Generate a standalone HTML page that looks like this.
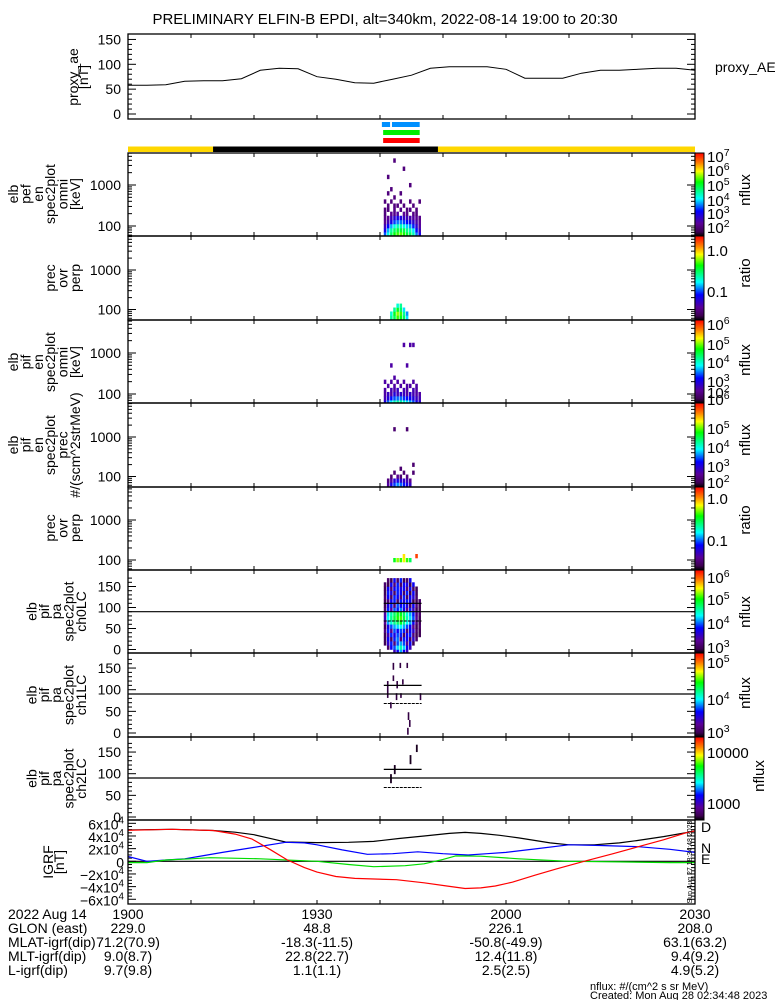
<!DOCTYPE html>
<html><head><meta charset="utf-8"><title>ELFIN-B EPDI</title>
<style>
html,body{margin:0;padding:0;background:#fff;}
svg{display:block;font-family:"Liberation Sans","DejaVu Sans",sans-serif;}
text{fill:#000;}
</style></head>
<body>
<svg id="chart" width="775" height="1000" viewBox="0 0 775 1000" xmlns="http://www.w3.org/2000/svg">
<defs>
<linearGradient id="cmap" x1="0" y1="1" x2="0" y2="0">
<stop offset="0" stop-color="#000000"/><stop offset="0.05" stop-color="#3c0050"/><stop offset="0.15" stop-color="#5a0096"/>
<stop offset="0.3" stop-color="#0000ff"/><stop offset="0.45" stop-color="#00ffff"/><stop offset="0.55" stop-color="#00ff80"/>
<stop offset="0.65" stop-color="#00ff00"/><stop offset="0.78" stop-color="#ffff00"/><stop offset="0.88" stop-color="#ff8000"/><stop offset="1" stop-color="#ff0000"/>
</linearGradient>
</defs>
<rect x="0" y="0" width="775" height="1000" fill="#fff"/>
<text x="385" y="24" font-size="15" text-anchor="middle">PRELIMINARY ELFIN-B EPDI, alt=340km, 2022-08-14 19:00 to 20:30</text>
<g id="g"></g>
</svg>
<script>
// ---------- DATA ----------
const aeTimes=[0,3,6,9,12,15,18,21,24,27,30,33,36,39,42,45,48,51,54,57,60,63,66,69,72,75,78,81,84,87,90];
const aeValues=[58,58,59,66,67,67,71,88,92,91,75,70,63,62,70,78,92,95,95,95,90,72,72,72,82,88,88,90,92,92,88];

const igrfTimes=[0,7,13.5,17,20,23,25,30,35,39,43,47,51,53.5,56,59,62,64.5,67,70,74,78,81,85,89,90];
const igrfTotal=[4.95,5.05,4.86,4.6,4.2,3.5,3.05,2.95,3.0,3.14,3.6,4.0,4.4,4.57,4.4,4.1,3.7,3.3,2.9,2.6,2.6,2.9,3.3,3.9,4.6,4.8];
const igrfDTimes=[0,7,13.5,17,19.7,22.5,25.3,28,30,33,36,42.6,47,50.6,53.5,56,58.3,61,64.6,68,72.4,77,81,85,88.9,90];
const igrfD=[4.9,5.05,4.86,4.3,3.5,1.9,0.2,-1.0,-1.7,-2.4,-2.7,-2.9,-3.4,-3.9,-4.3,-4.2,-3.9,-3.3,-2.2,-1.2,0,1.2,2.3,3.4,4.6,4.8];
const igrfNTimes=[0,3,6,9,12,15,20,25,28,30,34,38,42,46,50,54,57,60,65,70,75,81,86,90];
const igrfN=[0.76,0,0.2,0.4,0.9,1.4,2.2,3.0,2.9,2.6,1.8,1.1,1.2,1.5,1.2,1.0,1.2,1.4,2.0,2.6,2.5,2.3,1.9,1.4];
const igrfETimes=[0,3,6,10,13,21,30,35,39,44,47,50,52,56,62,70,78,86,90];
const igrfE=[-0.2,-0.2,0.2,0.4,0.57,0.4,0,-0.5,-0.86,-0.7,-0.4,0.3,0.86,0.8,0.4,0,-0.1,-0.2,-0.2];

const specTimes=[40.6,41.1,41.6,42.1,42.6,43.1,43.6,44.1,44.6,45.1,45.6,46.1];
const specDt=0.5;
const enLog0=1.75, enStep=0.1;
const pefOmni=[
[3.5,4.2,4.8,5.2,5.4,5.5,5.3,5.0,4.8,4.4,3.6,3.0],
[3.0,3.8,4.5,4.8,5.0,5.0,4.9,4.6,4.4,4.0,3.2,2.6],
[2.6,3.2,3.8,4.2,4.4,4.4,4.2,3.9,3.7,3.3,2.8,2.4],
[2.3,2.6,3.0,3.4,3.6,3.6,3.4,3.2,3.0,2.8,2.5,2.3],
[2.2,2.3,2.6,2.8,3.0,2.9,2.7,2.6,2.5,2.4,2.3,2.2],
[2.1,0,2.3,2.2,2.4,0,2.3,2.2,0,2.2,2.1,0],
[2.1,2.1,0,2.2,0,2.2,0,2.1,2.2,0,2.1,0],
[0,2.1,0,2.1,2.1,0,2.1,0,0,2.1,0,0],
[2.1,0,2.1,0,0,2.1,0,0,2.1,0,0,2.1],
[0,0,0,2.1,0,0,0,0,0,0,0,0],
[0,2.1,0,0,0,2.1,0,0,0,0,0,0],
[0,0,2.1,0,0,0,0,0,0,0,0,0],
[0,0,0,0,0,0,0,0,2.1,0,0,0],
[0,0,0,0,0,0,0,0,0,0,0,0],
[0,2.1,0,0,0,0,0,0,0,0,0,0],
[0,0,0,0,0,0,0,0,0,0,0,0],
[0,0,0,0,0,0,2.1,0,0,0,0,0],
[0,0,0,0,0,0,0,0,0,0,0,0],
[0,0,0,2.1,0,0,0,0,0,0,0,0]];
const pefRatio=[
[0,0,-0.6,-0.5,-0.3,-0.4,-0.5,-0.8,0,0,0,0],
[0,0,-0.7,-0.4,-0.2,-0.3,-0.6,-0.9,0,0,0,0],
[0,0,0,-0.6,-0.4,-0.5,-0.8,0,0,0,0,0],
[0,0,0,0,-0.7,-0.6,0,0,0,0,0,0]];
const pifOmni=[
[2.6,3.2,3.6,3.9,4.0,4.0,3.8,3.6,3.4,3.1,2.7,2.5],
[2.3,2.6,2.9,3.1,3.2,3.2,3.0,2.9,2.8,2.6,2.4,2.3],
[2.2,2.4,2.2,2.6,2.3,2.5,2.4,2.2,2.5,2.3,2.2,2.2],
[2.2,0,2.3,2.2,2.4,0,2.3,2.2,0,2.3,2.2,0],
[0,2.2,0,2.2,0,2.2,0,2.2,2.2,0,2.2,0],
[2.2,0,2.2,0,2.2,0,2.2,0,0,2.2,0,0],
[0,0,0,2.2,0,0,0,0,0,0,0,0],
[0,0,0,0,0,0,0,0,0,0,0,0],
[0,0,0,0,0,0,0,0,0,0,0,0],
[0,0,2.2,0,0,0,0,2.2,0,0,0,0],
[0,0,0,0,0,0,0,0,0,0,0,0],
[0,0,0,0,0,0,0,0,0,0,0,0],
[0,0,0,0,0,0,0,0,0,0,0,0],
[0,0,0,0,0,0,0,0,0,0,0,0],
[0,0,0,0,0,0,2.2,0,2.2,2.2,0,0]];
const pifPrec=[
[0,2.6,3.0,3.3,3.5,3.4,3.2,3.0,2.8,0,0,0],
[0,2.4,2.6,2.9,3.0,2.9,2.8,2.7,2.5,0,0,0],
[0,0,2.3,0,2.5,2.3,0,2.4,0,0,0,0],
[0,0,0,2.3,0,0,2.3,0,0,2.3,0,0],
[0,0,0,0,0,2.3,0,0,0,0,0,0],
[0,0,0,0,0,0,0,0,0,2.3,0,0],
[0,0,0,0,0,0,0,0,0,0,0,0],
[0,0,0,0,0,0,0,0,0,0,0,0],
[0,0,0,0,0,0,0,0,0,0,0,0],
[0,0,0,0,0,0,0,0,0,0,0,0],
[0,0,0,0,0,0,0,0,0,0,0,0],
[0,0,0,0,0,0,0,0,0,0,0,0],
[0,0,0,0,0,0,0,0,0,0,0,0],
[0,0,0,0,0,0,0,0,0,0,0,0],
[0,0,0,2.3,0,0,0,2.3,0,0,0,0]];
const pifRatio=[
[0,0,0,0,0,0,0,0,0,0,0,0],
[0,0,0,0,0,0,0,0,0,0,0,0],
[0,0,0,-0.4,-0.2,-0.3,-0.1,-0.3,-0.5,0,0,0],
[0,0,0,0,0.0,0,-0.05,0,0,0,0.25,0]];
const paBinLo=-10, paBinStep=10;
const pa0=[
[0,0,0,3.5,3.8,4.2,3.8,3.5,0,0,0,0],
[0,3.1,3.8,4.0,4.3,4.6,4.3,3.8,3.5,0,0,0],
[3.0,3.6,3.9,3.2,4.0,4.2,4.0,3.3,3.8,3.0,0,0],
[3.0,3.8,3.1,3.9,4.1,3.2,3.9,3.8,3.1,3.6,3.1,0],
[3.0,3.5,3.9,3.7,4.0,3.9,3.1,3.8,3.9,3.2,3.0,3.0],
[3.2,3.9,3.3,4.0,3.8,4.0,3.9,3.2,3.8,3.6,3.1,3.0],
[3.0,3.7,4.0,4.2,4.3,4.4,4.2,4.0,3.8,3.3,3.0,3.1],
[3.3,4.2,4.5,4.7,4.8,5.0,4.7,4.4,4.2,3.8,3.2,3.0],
[3.5,4.4,4.7,4.9,5.1,5.2,4.9,4.6,4.3,4.0,3.3,3.0],
[3.4,4.3,4.6,4.8,5.0,5.0,4.8,4.5,4.2,3.9,3.2,3.1],
[3.1,3.9,3.4,4.0,3.9,4.1,3.8,3.3,3.9,3.5,3.0,3.0],
[3.0,3.7,3.9,3.2,4.0,3.8,3.9,3.7,3.1,3.8,3.2,3.0],
[3.0,3.2,3.8,3.9,3.1,3.9,3.7,3.9,3.8,3.0,3.0,3.1],
[3.1,3.8,3.1,3.9,3.8,3.2,3.9,3.1,3.8,3.6,3.1,0],
[3.0,3.9,3.7,3.1,3.9,3.8,3.1,3.9,3.0,3.8,3.0,0],
[3.0,3.8,3.2,3.8,3.9,3.7,3.8,3.2,3.8,3.1,3.0,0],
[3.1,3.0,3.8,3.2,3.9,3.1,3.8,3.7,3.0,3.8,0,0],
[0,3.1,3.0,3.8,3.1,3.9,3.0,3.1,3.8,0,0,0]];
const pa1Marks=[[42.0,146,162,3.0],[43.1,150,162,3.0],[44.2,150,162,3.0],[42.0,120,133,3.0],[42.6,103,120,3.0],[43.5,112,124,3.0],[41.1,81,120,3.0],[42.5,76,92,3.0],[43.2,81,92,3.0],[46.3,76,92,3.0],[41.6,57,71,3.0],[44.4,30,48,3.0],[44.6,14,30,3.0],[44.3,-4,12,3.0]];
const pa2Marks=[[45.7,150,167,3.0],[44.7,122,143,3.0],[42.2,99,120,3.0],[41.6,78,99,3.0]];
const lcTimes=[40.6,46.6];
const lcCenter=90, lcUpper=110, lcLower=68;
const cbRanges=[[1.44,7.28],[-1.7,0.37],[1.31,6.5],[1.9,6.1],[-1.7,0.37],[2.8,6.3],[2.9,5.3],[2.7,4.3]];
const ephSegs=[[0,13.5,'#ffd700'],[13.5,49.2,'#000000'],[49.2,90,'#ffd700']];
const modeBars=[[40.3,41.6,'#0090ff'],[41.9,46.3,'#0090ff'],[40.5,46.3,'#00ee00'],[40.5,46.3,'#ff0000']];
const footLabels=['2022 Aug 14','GLON (east)','MLAT-igrf(dip)','MLT-igrf(dip)','L-igrf(dip)'];
const footTimes=[0,30,60,90];
const footCols=[['1900','229.0','71.2(70.9)','9.0(8.7)','9.7(9.8)'],['1930','48.8','-18.3(-11.5)','22.8(22.7)','1.1(1.1)'],['2000','226.1','-50.8(-49.9)','12.4(11.8)','2.5(2.5)'],['2030','208.0','63.1(63.2)','9.4(9.2)','4.9(5.2)']];

// ---------- HELPERS ----------
const NS='http://www.w3.org/2000/svg';
const G=document.getElementById('g');
const X0=128,X1=695;
function xT(t){return X0+t*(X1-X0)/90;}
function mk(tag,attrs,parent){const e=document.createElementNS(NS,tag);for(const k in attrs)e.setAttribute(k,attrs[k]);(parent||G).appendChild(e);return e;}
const stops=[[0,[0,0,0]],[0.05,[60,0,80]],[0.15,[90,0,150]],[0.3,[0,0,255]],[0.45,[0,255,255]],[0.55,[0,255,128]],[0.65,[0,255,0]],[0.78,[255,255,0]],[0.88,[255,128,0]],[1,[255,0,0]]];
function cmap(f){f=Math.max(0,Math.min(1,f));for(let i=1;i<stops.length;i++){if(f<=stops[i][0]){const a=stops[i-1],b=stops[i];const u=(f-a[0])/(b[0]-a[0]);const c=a[1].map((v,j)=>Math.round(v+(b[1][j]-v)*u));return 'rgb('+c.join(',')+')';}}return 'rgb(255,0,0)';}
function txt(x,y,s,size,anchor,name){const t=mk('text',{x:x,y:y,'font-size':size||14,'text-anchor':anchor||'end'});t.textContent=s;return t;}
function supTxt(x,y,base,exp,size,name){const t=mk('text',{x:x,y:y,'font-size':size,'text-anchor':'start'});const a=mk('tspan',{},t);a.textContent=base;if(exp!==''){const b=mk('tspan',{dy:-6,'font-size':size*0.7},t);b.textContent=exp;}return t;}
function vlabel(lines,yc,lastX,step,name){const n=lines.length;const g=mk('g',{});lines.forEach((s,i)=>{const x=lastX-(n-1-i)*step;const t=mk('text',{x:x,y:yc,'font-size':14,'text-anchor':'middle',transform:'rotate(-90 '+x+' '+yc+')'},g);t.textContent=s;});}
function frame(top,bot,name){const r=mk('rect',{x:X0,y:top,width:X1-X0,height:bot-top,fill:'none',stroke:'#000','stroke-width':1.3});
 for(let t=10;t<90;t+=10){const x=xT(t);mk('line',{x1:x,x2:x,y1:bot,y2:bot-4,stroke:'#000'});mk('line',{x1:x,x2:x,y1:top,y2:top+4,stroke:'#000'});}}
function yTick(y,len){mk('line',{x1:X0,x2:X0+len,y1:y,y2:y,stroke:'#000'});mk('line',{x1:X1,x2:X1-len,y1:y,y2:y,stroke:'#000'});}
function colorbar(top,bot,name){const r=mk('rect',{x:695,y:top,width:9,height:bot-top,fill:'url(#cmap)',stroke:'#000','stroke-width':1});}

// ---------- PROXY AE ----------
(function(){const top=34,bot=119;const yV=v=>114-v*0.497;
 for(let v=0;v<=150;v+=10)yTick(yV(v),v%50===0?8:4);
 [0,50,100,150].forEach(v=>txt(121,yV(v)+5,String(v),14,'end','proxy-ae-tick'));
 const pts=aeTimes.map((t,i)=>xT(t).toFixed(1)+','+yV(aeValues[i]).toFixed(1)).join(' ');
 const p=mk('polyline',{points:pts,fill:'none',stroke:'#000','stroke-width':1});
 
 
 frame(top,bot,'proxy-ae-panel');
 vlabel(['proxy_ae','[nT]'],77,88,10,'proxy-ae-axis-title');
 txt(715,72,'proxy_AE',14,'start','proxy-ae-legend');})();

// ---------- MODE / EPH BARS ----------
modeBars.forEach((b,i)=>{const y=[122,122,130,138][i];const r=mk('rect',{x:xT(b[0]),y:y,width:xT(b[1])-xT(b[0]),height:5,fill:b[2]});
 
 });
ephSegs.forEach(s=>{const r=mk('rect',{x:xT(s[0]),y:146.5,width:xT(s[1])-xT(s[0]),height:5.5,fill:s[2]});
 
 });

// ---------- ENERGY SPECTROGRAMS ----------
function specPanel(top,bot,y1000,decPx,matrix,range,name){
 const yL=l=>y1000+(3-l)*decPx;
 const g=mk('g',{});
 const clip='c'+top;const cp=mk('clipPath',{id:clip});mk('rect',{x:X0,y:top,width:X1-X0,height:bot-top},cp);g.setAttribute('clip-path','url(#'+clip+')');
 matrix.forEach((row,r)=>row.forEach((v,c)=>{if(!v)return;const l0=enLog0+r*enStep;const ya=yL(l0+enStep),yb=yL(l0);
  const rc=mk('rect',{x:xT(specTimes[c]),y:ya,width:xT(specTimes[c]+specDt)-xT(specTimes[c])-0.6,height:yb-ya+0.3,fill:cmap((v-range[0])/(range[1]-range[0]))},g);
  
  }));
 for(let d=1;d<=3;d++)for(let k=1;k<10;k++){const y=yL(d+Math.log10(k));if(y>top&&y<bot)yTick(y,k===1?8:4);}
 txt(121,yL(3)+5,'1000',14,'end',name+'-tick');txt(121,yL(2)+5,'100',14,'end',name+'-tick');
 frame(top,bot,name+'-panel');}
function ratioPanel(top,bot,y1000,decPx,matrix,range,name){
 const mat=matrix.map(r=>r.map(v=>v===0?null:v));
 const yL=l=>y1000+(3-l)*decPx;
 const g=mk('g',{});
 mat.forEach((row,r)=>row.forEach((v,c)=>{if(v===null)return;const l0=enLog0+r*enStep;const ya=yL(l0+enStep),yb=yL(l0);
  const rc=mk('rect',{x:xT(specTimes[c]),y:ya,width:xT(specTimes[c]+specDt)-xT(specTimes[c])-0.6,height:yb-ya+0.3,fill:cmap((v-range[0])/(range[1]-range[0]))},g);
  
  }));
 for(let d=1;d<=3;d++)for(let k=1;k<10;k++){const y=yL(d+Math.log10(k));if(y>top&&y<bot)yTick(y,k===1?8:4);}
 txt(121,yL(3)+5,'1000',14,'end',name+'-tick');txt(121,yL(2)+5,'100',14,'end',name+'-tick');
 frame(top,bot,name+'-panel');}
specPanel(153,236,185,41,pefOmni,cbRanges[0],'pef-omni');
ratioPanel(236,320,270,39.5,pefRatio,cbRanges[1],'pef-ratio');
specPanel(320,403,353,41,pifOmni,cbRanges[2],'pif-omni');
specPanel(403,487,437,39.5,pifPrec,cbRanges[3],'pif-prec');
ratioPanel(487,570,520,40,pifRatio,cbRanges[4],'pif-ratio');
vlabel(['elb','pef','en','spec2plot','omni','[keV]'],194,80,12.4,'pef-omni-axis-title');
vlabel(['prec','ovr','perp'],278,80,12.4,'pef-ratio-axis-title');
vlabel(['elb','pif','en','spec2plot','omni','[keV]'],362,80,12.4,'pif-omni-axis-title');
vlabel(['elb','pif','en','spec2plot','prec','#/(scm^2strMeV)'],445,80,12.4,'pif-prec-axis-title');
vlabel(['prec','ovr','perp'],528,80,12.4,'pif-ratio-axis-title');

// ---------- PITCH-ANGLE PANELS ----------
function paPanel(top,bot,y0,pxDeg,range,name,labelLines){
 const yP=v=>y0-v*pxDeg;
 const clip='c'+top;const cp=mk('clipPath',{id:clip});mk('rect',{x:X0,y:top,width:X1-X0,height:bot-top},cp);
 const g=mk('g',{'clip-path':'url(#'+clip+')'});
 for(let v=0;v<=170;v+=10){const y=yP(v);if(y>top&&y<bot)yTick(y,v%50===0?8:4);}
 [0,50,100,150].forEach(v=>txt(121,yP(v)+5,String(v),14,'end',name+'-tick'));
 vlabel(labelLines,(top+bot)/2,86,12.4,name+'-axis-title');
 return {yP:yP,g:g,range:range};}
(function(){
 const p=paPanel(570,653,649.5,0.42,cbRanges[5],'pa-ch0',['elb','pif','pa','spec2plot','ch0LC']);
 pa0.forEach((row,r)=>row.forEach((v,c)=>{if(!v)return;const lo=paBinLo+r*paBinStep;const ya=p.yP(lo+paBinStep),yb=p.yP(lo);
  const rc=mk('rect',{x:xT(specTimes[c]),y:ya,width:xT(specTimes[c]+specDt)-xT(specTimes[c])-0.6,height:yb-ya+0.3,fill:cmap((v-p.range[0])/(p.range[1]-p.range[0]))},p.g);
  
  }));
 drawLC(p.yP);frame(570,653,'pa-ch0-panel');
 const p1=paPanel(653,737,733,0.433,cbRanges[6],'pa-ch1',['elb','pif','pa','spec2plot','ch1LC']);
 pa1Marks.forEach(m=>{const rc=mk('rect',{x:xT(m[0]),y:p1.yP(m[2]),width:1.6,height:p1.yP(m[1])-p1.yP(m[2]),fill:cmap((m[3]-p1.range[0])/(p1.range[1]-p1.range[0]))},p1.g);
  
  });
 drawLC(p1.yP);frame(653,737,'pa-ch1-panel');
 const p2=paPanel(737,820,817,0.433,cbRanges[7],'pa-ch2',['elb','pif','pa','spec2plot','ch2LC']);
 pa2Marks.forEach(m=>{const rc=mk('rect',{x:xT(m[0]),y:p2.yP(m[2]),width:1.8,height:p2.yP(m[1])-p2.yP(m[2]),fill:'#1a0020'},p2.g);
  
  });
 drawLC(p2.yP);frame(737,820,'pa-ch2-panel');
})();
function drawLC(yP){
 const l=mk('line',{x1:X0,x2:X1,y1:yP(lcCenter),y2:yP(lcCenter),stroke:'#000','stroke-width':1.2});
 
 
 const u=mk('line',{x1:xT(lcTimes[0]),x2:xT(lcTimes[1]),y1:yP(lcUpper),y2:yP(lcUpper),stroke:'#000','stroke-width':1.2});
 
 
 const d=mk('line',{x1:xT(lcTimes[0]),x2:xT(lcTimes[1]),y1:yP(lcLower),y2:yP(lcLower),stroke:'#000','stroke-width':1,'stroke-dasharray':'3,1'});
 
 }

// ---------- COLORBARS ----------
[[153,236],[236,320],[320,403],[403,487],[487,570],[570,653],[653,737],[737,820]].forEach((b,i)=>colorbar(b[0],b[1],'colorbar-'+(i+1)));
const cbLab=[[162,'10','7'],[176,'10','6'],[191,'10','5'],[206,'10','4'],[219,'10','3'],[233,'10','2'],
 [330,'10','6'],[350,'10','5'],[368,'10','4'],[387,'10','3'],[398,'10','2'],
 [405,'10','6'],[434,'10','5'],[453,'10','4'],[472,'10','3'],[488,'10','2'],
 [583,'10','6'],[605,'10','5'],[629,'10','4'],[653,'10','3'],[668,'10','5'],[705,'10','4'],[738,'10','3']];
cbLab.forEach(l=>supTxt(707,l[0],l[1],l[2],15,'colorbar-tick'));
[[256,'1.0'],[297,'0.1'],[504,'1.0'],[546,'0.1'],[758,'10000'],[809,'1000']].forEach(l=>{const t=txt(707,l[0],l[1],15,'start','colorbar-tick');});
function rlab(x,y,s,name){const t=mk('text',{x:x,y:y,'font-size':15,'text-anchor':'middle',transform:'rotate(-90 '+x+' '+y+')'});t.textContent=s;}
rlab(750,190,'nflux','colorbar-title');rlab(750,273,'ratio','colorbar-title');rlab(750,360,'nflux','colorbar-title');
rlab(750,440,'nflux','colorbar-title');rlab(750,520,'ratio','colorbar-title');rlab(750,612,'nflux','colorbar-title');
rlab(750,693,'nflux','colorbar-title');rlab(764,776,'nflux','colorbar-title');

// ---------- IGRF ----------
(function(){const top=820,bot=904;const yV=v=>861.3-v*6.33;
 for(let v=-6;v<=6.01;v+=0.5){const y=yV(v);if(y>=top&&y<=bot)yTick(y,Math.abs(v%2)<0.01?8:4);}
 mk('line',{x1:X0,x2:X1,y1:yV(0),y2:yV(0),stroke:'#000','stroke-width':1.2});
 const series=[[igrfTimes,igrfTotal,'#000','igrf-total-line'],[igrfNTimes,igrfN,'#0000ff','igrf-n-line'],[igrfETimes,igrfE,'#00dd00','igrf-e-line'],[igrfDTimes,igrfD,'#ff0000','igrf-d-line']];
 series.forEach(s=>{const pts=s[0].map((t,i)=>xT(t).toFixed(1)+','+yV(s[1][i]).toFixed(1)).join(' ');
  const p=mk('polyline',{points:pts,fill:'none',stroke:s[2],'stroke-width':1.2,'stroke-linejoin':'round'});
  
  });
 frame(top,bot,'igrf-panel');
 [[6,'6x10','4'],[4,'4x10','4'],[2,'2x10','4'],[0,'0',''],[-2,'−2x10','4'],[-4,'−4x10','4'],[-6,'−6x10','4']].forEach(l=>{
  const t=supTxt(0,yV(l[0])+6,l[1],l[2],14,'igrf-tick');t.setAttribute('text-anchor','end');t.setAttribute('x',124);});
 vlabel(['IGRF','[nT]'],862,64,11,'igrf-axis-title');
 [['D','#ff0000',832],['N','#0000ff',853],['E','#00dd00',864]].forEach(l=>{const t=mk('text',{x:701,y:l[2],'font-size':14,fill:l[1]});t.textContent=l[0];});
 const s=mk('text',{x:692,y:862,'font-size':7,'text-anchor':'middle',transform:'rotate(-90 692 862)'});s.textContent='Sun Aug 27 18:34:48 2023';
})();

// ---------- FOOTER ----------
footLabels.forEach((l,i)=>txt(8,919+i*14,l,14,'start','footer-row-label'));
footCols.forEach((col,j)=>col.forEach((v,i)=>txt(xT(footTimes[j]),919+i*14,v,14,'middle','footer-value')));
txt(590,990,'nflux: #/(cm^2 s sr MeV)',11,'start','footer-units');
txt(590,999,'Created: Mon Aug 28 02:34:48 2023',11,'start','footer-created');
</script>
</body></html>
